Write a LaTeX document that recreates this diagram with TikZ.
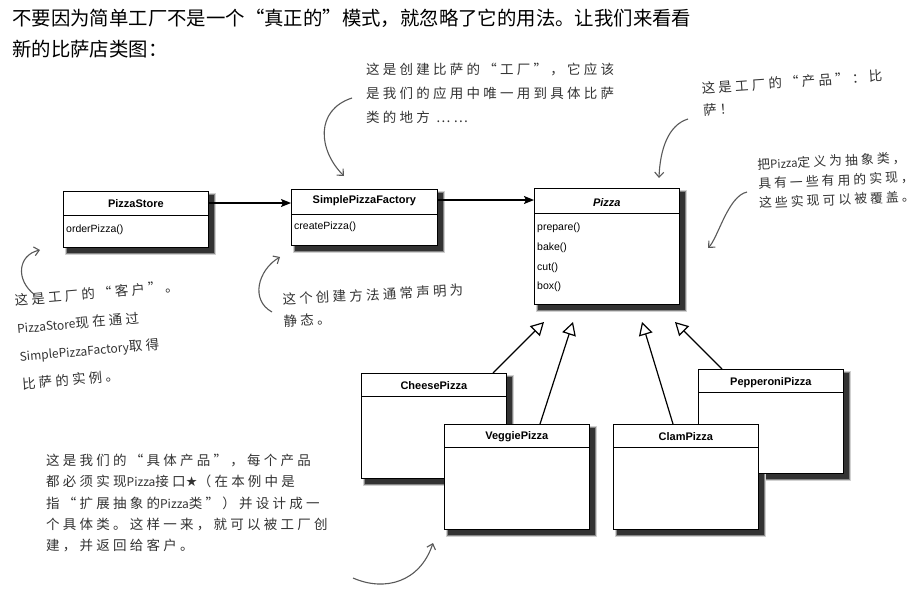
\documentclass[tikz,border=0pt]{standalone}
\usepackage{fontspec}
\setmainfont{Liberation Sans}
\newfontfamily\cjk{Noto Sans CJK SC}
\newfontfamily\hand[LetterSpace=24]{Noto Sans CJK SC}
\newfontfamily\handlat[Scale=0.89]{Noto Sans CJK SC}
\newfontfamily\symf{DejaVu Sans}
\newcommand\hlat[1]{{\handlat #1}}
\usetikzlibrary{arrows.meta}
\pgfdeclarelayer{paper}
\pgfdeclarelayer{shadowlayer}
\pgfsetlayers{paper,shadowlayer,main}
\tikzset{
  classbox/.style={draw=black, line width=0.7pt, fill=white, minimum width=145pt,
    inner sep=0pt, anchor=north west},
  ctitle/.style={font=\fontsize{11}{13}\selectfont\bfseries, inner sep=0pt},
  cmeth/.style={font=\fontsize{10.5}{12}\selectfont, anchor=west, inner sep=0pt},
  divider/.style={line width=0.7pt},
  assoc/.style={line width=1.3pt, -{Stealth[length=10pt,width=8pt,inset=2pt]}},
  inherit/.style={line width=1.2pt, -{Triangle[open, length=13pt, width=14pt, fill=white, line width=1.2pt]}},
  handarrow/.style={line width=1.1pt, draw=black!65, -{Straight Barb[length=5pt, width=9pt]}},
  handtext/.style={text=black!80, align=left, inner sep=0pt, anchor=north west},
  shadowA/.style={fill=black!18},
  shadowB/.style={fill=black!48},
  shadowC/.style={fill=black!80},
}
\begin{document}
\begin{tikzpicture}[x=1pt,y=-1pt]
\begin{pgfonlayer}{paper}
\fill[white] (0,0) rectangle (923,589);
\end{pgfonlayer}
\useasboundingbox (0,0) rectangle (923,589);

% intro text
\node[anchor=north west, inner sep=0pt, font=\cjk\fontsize{19.4}{31}\selectfont, align=left] (intro) at (12,9)
  {不要因为简单工厂不是一个“真正的”模式，就忽略了它的用法。让我们来看看\\新的比萨店类图：};

% class boxes (back ones first)
\node[classbox, minimum height=56pt] (ps) at (63,191) {};
\node[classbox, minimum width=146pt, minimum height=56pt] (spf) at (291,189) {};
\node[classbox, minimum height=116pt] (pz) at (534,188) {};
\node[classbox, minimum height=105pt] (cheese) at (361,373) {};
\node[classbox, minimum height=104pt] (pep) at (698,369) {};
\node[classbox, minimum height=105pt] (veg) at (444,424) {};
\node[classbox, minimum height=105pt] (clam) at (613,424) {};

% blurred drop shadows
\begin{pgfonlayer}{shadowlayer}
\foreach \n in {ps,spf,pz,cheese,pep,veg,clam}{
  \fill[shadowA] ([xshift=2pt,yshift=-2pt]\n.north west) rectangle ([xshift=7pt,yshift=-7pt]\n.south east);
  \fill[shadowB] ([xshift=3pt,yshift=-3pt]\n.north west) rectangle ([xshift=6pt,yshift=-6pt]\n.south east);
  \fill[shadowC] ([xshift=3.5pt,yshift=-3.5pt]\n.north west) rectangle ([xshift=4.8pt,yshift=-4.8pt]\n.south east);
}
\end{pgfonlayer}

% titles, dividers, methods
\node[ctitle] (pst) at ([yshift=-13pt]ps.north) {PizzaStore};
\draw[divider] ([yshift=-24pt]ps.north west) -- ([yshift=-24pt]ps.north east);
\node[cmeth] (psm) at ([xshift=3pt,yshift=-39pt]ps.north west) {orderPizza()};

\node[ctitle] (spft) at ([yshift=-12pt]spf.north) {SimplePizzaFactory};
\draw[divider] ([yshift=-25pt]spf.north west) -- ([yshift=-25pt]spf.north east);
\node[cmeth] (spfm) at ([xshift=3pt,yshift=-38pt]spf.north west) {createPizza()};

\node[ctitle] (pzt) at ([yshift=-15pt]pz.north) {\itshape Pizza};
\draw[divider] ([yshift=-25pt]pz.north west) -- ([yshift=-25pt]pz.north east);
\node[cmeth] (pzm1) at ([xshift=3pt,yshift=-40pt]pz.north west) {prepare()};
\node[cmeth] (pzm2) at ([xshift=3pt,yshift=-60pt]pz.north west) {bake()};
\node[cmeth] (pzm3) at ([xshift=3pt,yshift=-80pt]pz.north west) {cut()};
\node[cmeth] (pzm4) at ([xshift=3pt,yshift=-99pt]pz.north west) {box()};

\node[ctitle] (cheeset) at ([yshift=-13pt]cheese.north) {CheesePizza};
\draw[divider] ([yshift=-23pt]cheese.north west) -- ([yshift=-23pt]cheese.north east);
\node[ctitle] (pept) at ([yshift=-14pt]pep.north) {PepperoniPizza};
\draw[divider] ([yshift=-23pt]pep.north west) -- ([yshift=-23pt]pep.north east);
\node[ctitle] (vegt) at ([yshift=-13pt]veg.north) {VeggiePizza};
\draw[divider] ([yshift=-23pt]veg.north west) -- ([yshift=-23pt]veg.north east);
\node[ctitle] (clamt) at ([yshift=-13pt]clam.north) {ClamPizza};
\draw[divider] ([yshift=-23pt]clam.north west) -- ([yshift=-23pt]clam.north east);

% associations
\draw[assoc] ([yshift=-12pt]ps.north east) -- ([yshift=-14pt]spf.north west);
\draw[assoc] ([yshift=-11pt]spf.north east) -- ([yshift=-12pt]pz.north west);

% inheritance
\coordinate (t1) at (544,322);
\coordinate (t2) at (573,322);
\coordinate (t3) at (642,322);
\coordinate (t4) at (675,322);
\draw[inherit] ([xshift=132pt]cheese.north west) -- (t1);
\draw[inherit] ([xshift=96pt]veg.north west) -- (t2);
\draw[inherit] ([xshift=60pt]clam.north west) -- (t3);
\draw[inherit] ([xshift=24pt]pep.north west) -- (t4);

% annotations
\node[handtext, font=\hand\fontsize{13.5}{24}\selectfont] (n1) at (366,63)
  {这是创建比萨的“工厂”，它应该\\是我们的应用中唯一用到具体比萨\\类的地方 ……};
\node[handtext, rotate=4, font=\hand\fontsize{13.5}{22}\selectfont] (n2) at (701,82)
  {这是工厂的“产品”：比\\萨！};
\node[handtext, rotate=2.5, font=\hand\fontsize{12.8}{19.5}\selectfont] (n3) at (757,158)
  {把\hlat{Pizza}定义为抽象类，\\具有一些有用的实现，\\这些实现可以被覆盖。};
\node[handtext, rotate=5, font=\hand\fontsize{13.5}{28}\selectfont] (n4) at (14,294)
  {这是工厂的“客户”。\\\hlat{PizzaStore}现在通过\\\hlat{SimplePizzaFactory}取得\\比萨的实例。};
\node[handtext, rotate=3, font=\hand\fontsize{13.5}{22}\selectfont] (n5) at (282,293)
  {这个创建方法通常声明为\\静态。};
\node[handtext, font=\hand\fontsize{13.5}{21.3}\selectfont] (n6) at (46,454)
  {这是我们的“具体产品”，每个产品\\都必须实现\hlat{Pizza}接口{\symf ★}（在本例中是\\指“扩展抽象的\hlat{Pizza}类”）并设计成一\\个具体类。这样一来，就可以被工厂创\\建，并返回给客户。};

% hand-drawn arrows
\coordinate (a1s) at (352,98);   \coordinate (a1e) at (344,176);
\coordinate (a2s) at (688,119);  \coordinate (a2e) at (659,178);
\coordinate (a3s) at (747,192);  \coordinate (a3e) at (708,248);
\coordinate (a4s) at (35,295);   \coordinate (a4e) at (40,250);
\coordinate (a5s) at (272,312);  \coordinate (a5e) at (280,257);
\coordinate (a6s) at (353,578);  \coordinate (a6e) at (433,543);
\draw[handarrow] (a1s) .. controls (315,110) and (318,150) .. (a1e);
\draw[handarrow] (a2s) .. controls (668,125) and (660,150) .. (a2e);
\draw[handarrow] (a3s) .. controls (728,196) and (718,238) .. (a3e);
\draw[handarrow] (a4s) .. controls (15,280) and (18,255) .. (a4e);
\draw[handarrow] (a5s) .. controls (250,300) and (258,270) .. (a5e);
\draw[handarrow] (a6s) .. controls (385,592) and (420,582) .. (a6e);
\end{tikzpicture}
\end{document}
